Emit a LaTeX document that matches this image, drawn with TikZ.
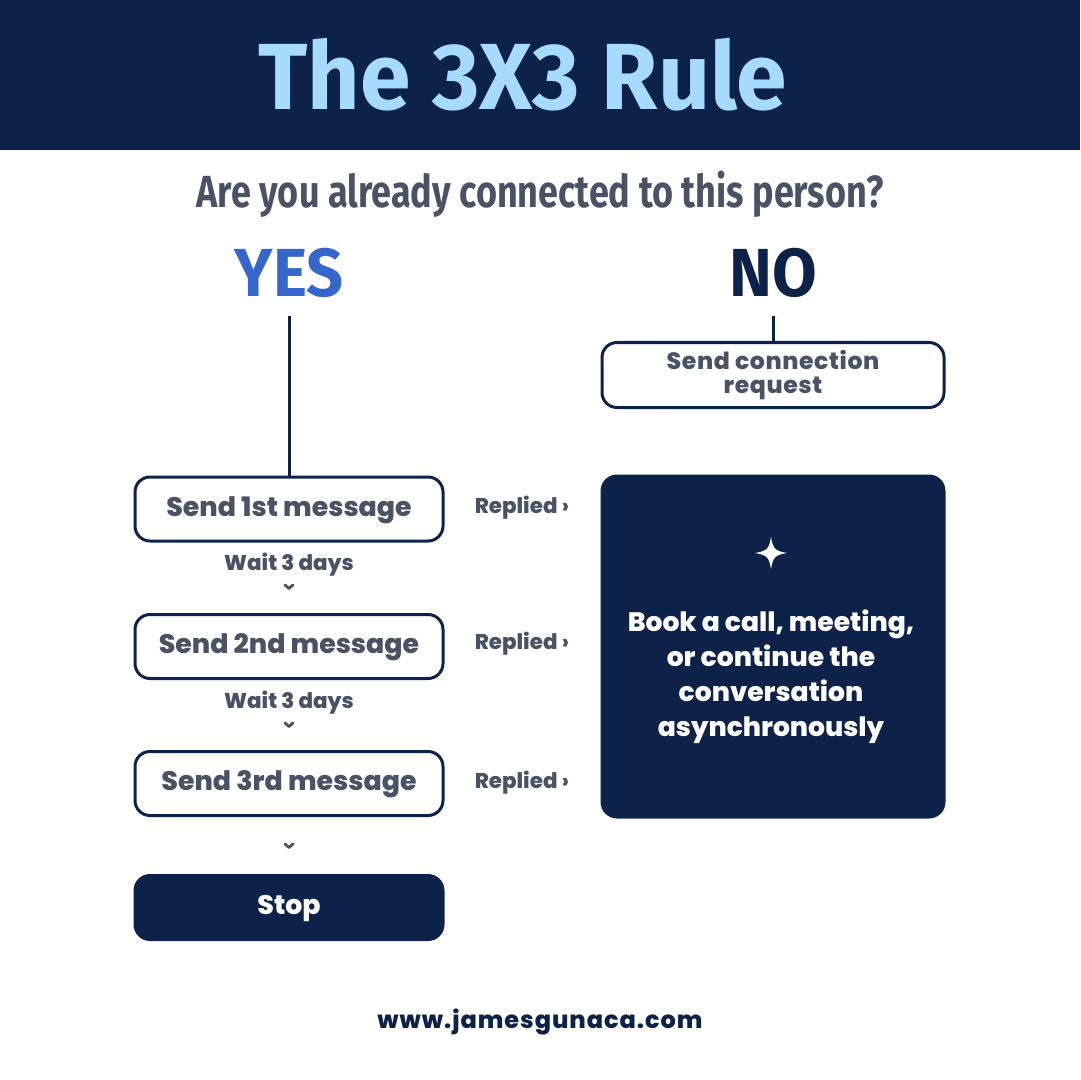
\documentclass[tikz,border=0pt]{standalone}
\usepackage{fontspec}
\setmainfont{Poppins}[BoldFont={Poppins ExtraBold}]
\newfontfamily\titlefont[FakeStretch=0.97]{Fira Sans}
\newfontfamily\askfont[FakeStretch=0.80]{Fira Sans}
\newfontfamily\answerfont[FakeStretch=0.95]{Fira Sans}
\usetikzlibrary{positioning}
\definecolor{navy}{HTML}{0D2248}
\definecolor{skyblue}{HTML}{A6DBFF}
\definecolor{slate}{HTML}{4A5365}
\definecolor{yesblue}{HTML}{3566CC}
\tikzstyle{stepbox} = [rectangle, rounded corners=7.5pt, draw=navy, line width=1.5pt, fill=white, minimum width=154pt, minimum height=32pt, text=slate, align=center, text height=0.7em, text depth=0pt, font=\bfseries\fontsize{13.4}{15}\selectfont]
\tikzstyle{darkbox} = [stepbox, fill=navy, text=white]
\tikzstyle{waitlabel} = [text=slate, font=\bfseries\fontsize{10.7}{12}\selectfont]
\tikzstyle{answer} = [inner ysep=8.5pt, font=\answerfont\bfseries\fontsize{34}{36}\selectfont]
\tikzstyle{link} = [line width=1.5pt, draw=navy]
\tikzstyle{chevron} = [draw=slate, line width=1.4pt, line cap=round, line join=round]

\begin{document}
\begin{tikzpicture}[x=0.5pt, y=-0.5pt, inner sep=0pt]
	\useasboundingbox (0,0) rectangle (1080,1080);
	\fill[navy] (0,0) rectangle (1080,150);
	\node[anchor=base, text=skyblue, font=\titlefont\bfseries\fontsize{47}{50}\selectfont] (title) at (523,110) {The 3X3 Rule};
	\node[anchor=base, text=slate, font=\askfont\bfseries\fontsize{22.5}{26}\selectfont] (ask) at (540,208) {Are you already connected to this person?};
	\node[answer, anchor=base, text=yesblue] (yes) at (289,297) {YES};
	\node[answer, anchor=base, text=navy] (no) at (773,297) {NO};

	% steps
	\node[stepbox, minimum width=171pt, minimum height=32.5pt, text height=, text depth=, font=\bfseries\fontsize{11.8}{12}\selectfont\addfontfeatures{LetterSpace=2.5}] (conn) at (773,375) {Send connection\\request};
	\node[stepbox] (msg1) at (289,509) {Send 1st message};
	\node[stepbox] (msg2) at (289,646.5) {Send 2nd message};
	\node[stepbox] (msg3) at (289,783.5) {Send 3rd message};
	\node[darkbox] (stop) at (289,907.5) {Stop};
	\node[darkbox, minimum width=171pt, minimum height=170.5pt] (booked) at (773,646.5) {};
	\node[text=white, align=center, font=\bfseries\fontsize{13.3}{17.5}\selectfont] (bookedtext) at (771,676.5) {Book a call, meeting,\\or continue the\\conversation\\asynchronously};
	\fill[white] (771,537) .. controls (773,549) and (775,551) .. (787,553) .. controls (775,555) and (773,557) .. (771,569) .. controls (769,557) and (767,555) .. (755,553) .. controls (767,551) and (769,549) .. (771,537) -- cycle;

	% Labels
	\node[waitlabel] (wait1) at (289,565) {Wait 3 days};
	\node[waitlabel] (wait2) at (289,703) {Wait 3 days};
	\foreach \y/\n in {508/1, 644/2, 783/3}
		\node[waitlabel] (replied\n) at (522,\y) {Replied ›};
	\foreach \y in {587, 725, 846}
		\draw[chevron] (285,\y-2) -- (289,\y+1.5) -- (293,\y-2);

	\draw[link] (yes.south) -- (msg1.north);
	\draw[link] (no.south) -- (conn.north);

	\node[text=navy, font=\bfseries\fontsize{12}{14}\selectfont\addfontfeatures{LetterSpace=4}] (site) at (540,1022) {www.jamesgunaca.com};
\end{tikzpicture}
\end{document}
